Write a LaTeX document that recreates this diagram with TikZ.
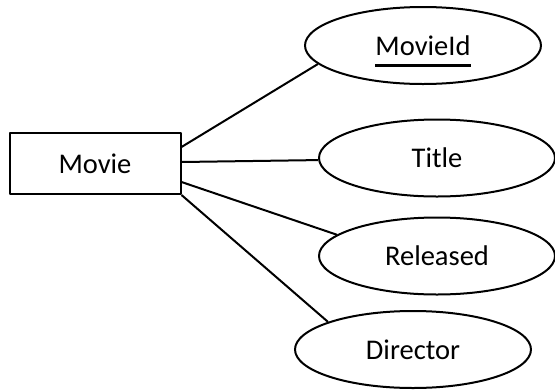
\documentclass[tikz,border=0pt]{standalone}
\usepackage{fontspec}
\setmainfont{Carlito}
\usetikzlibrary{shapes.geometric}
% underline for the key attribute
\newcommand\pkey[1]{\setbox0\hbox{#1}\rlap{\smash{\vrule height -8.5pt depth 12pt width \wd0}}\box0}
\begin{document}
\begin{tikzpicture}[x=1pt,y=-1pt,line join=round,
	entity/.style={draw,line width=2pt,minimum width=171pt,minimum height=61pt,inner sep=0pt,font=\fontsize{28.5}{34}\selectfont},
	attr/.style={draw,ellipse,line width=2pt,minimum width=236pt,minimum height=77pt,inner sep=0pt,font=\fontsize{28.5}{34}\selectfont},
	link/.style={line width=2pt}]
		\useasboundingbox (0,0) rectangle (555,389);
		%==entity
		\node[entity] (movie) at (95,163.5) {Movie};
		%==attributes
		\node[attr] (movieid) at (423,45.5) {\pkey{MovieId}};
		\node[attr] (title) at (437,158) {Title};
		\node[attr] (released) at (437,256) {Released};
		\node[attr] (director) at (413,349.5) {Director};
		%==links
		\draw[link] ([yshift=-15pt]movie.north east)--(movieid.190);
		\draw[link] ([yshift=1.5pt]movie.east)--(title.181);
		\draw[link] ([yshift=-18.5pt]movie.east)--(released.168);
		\draw[link] (movie.south east)--(director.162);
\end{tikzpicture}
\end{document}
